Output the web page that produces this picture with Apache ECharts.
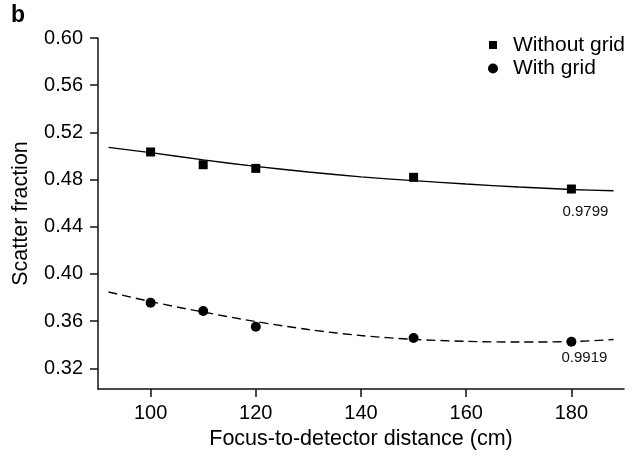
<!DOCTYPE html>
<html>
<head>
<meta charset="utf-8">
<script src="https://cdn.jsdelivr.net/npm/echarts@6/dist/echarts.min.js"></script>
<style>html,body{margin:0;padding:0;background:#fff}#c{width:641px;height:459px}</style>
</head>
<body>
<div id="c"></div>
<script>
// measured points
const distances = [100, 110, 120, 150, 180];
const withoutGrid = [0.5034, 0.4926, 0.4895, 0.4819, 0.4720];
const withGrid = [0.3756, 0.3686, 0.3553, 0.3457, 0.3425];
// fitted curves
const fitX = [92, 100, 110, 120, 130, 140, 150, 160, 170, 180, 188];
const fitWithout = [0.5073, 0.5028, 0.4967, 0.4912, 0.4864, 0.4823, 0.4791, 0.4762, 0.4737, 0.4716, 0.4705];
const fitWith = [0.3847, 0.3766, 0.3677, 0.3597, 0.3529, 0.3478, 0.3446, 0.3429, 0.3423, 0.3427, 0.3444];
const fitLabels = ['0.9799', '0.9919'];
const xTicks = [100, 120, 140, 160, 180];
const yTicks = [0.32, 0.36, 0.40, 0.44, 0.48, 0.52, 0.56, 0.60];

const FONT = 'Liberation Sans, Arial, sans-serif';
const AX = '#111';

function pts(xs, ys, labelIdx, labelText, offset) {
  return xs.map((x, i) => {
    const d = { value: [x, ys[i]] };
    if (i === labelIdx) {
      d.label = { show: true, position: 'bottom', formatter: labelText, offset: offset,
        fontSize: 15, color: '#111', fontFamily: FONT };
    }
    return d;
  });
}

const chart = echarts.init(document.getElementById('c'), null, { renderer: 'canvas' });
chart.setOption({
  animation: false,
  backgroundColor: '#fff',
  textStyle: { fontFamily: FONT },
  title: {
    text: 'b', left: 11, top: 4, padding: 0,
    textStyle: { fontSize: 23, fontWeight: 'bold', color: '#000', fontFamily: FONT }
  },
  legend: [
    {
      data: ['Without grid'], orient: 'vertical', left: 489, top: 34.5, padding: 0,
      icon: 'rect', itemWidth: 8, itemHeight: 8,
      itemStyle: { opacity: 1, color: '#000' },
      textStyle: { fontSize: 21, color: '#000', fontFamily: FONT, padding: [0, 0, 0, 11] }
    },
    {
      data: ['With grid'], orient: 'vertical', left: 488, top: 58, padding: 0,
      icon: 'circle', itemWidth: 10, itemHeight: 10,
      itemStyle: { opacity: 1, color: '#000' },
      textStyle: { fontSize: 21, color: '#000', fontFamily: FONT, padding: [0, 0, 0, 10] }
    }
  ],
  grid: { left: 98, right: 17, top: 38, bottom: 70, containLabel: false },
  xAxis: {
    type: 'value', min: 90, max: 190,
    name: 'Focus-to-detector distance (cm)', nameLocation: 'middle', nameGap: 39,
    nameTextStyle: { fontSize: 21.5, color: '#000', fontFamily: FONT },
    axisLine: { show: true, lineStyle: { color: AX, width: 1.5 } },
    axisTick: { show: true, length: 8, lineStyle: { color: AX, width: 1.5 }, customValues: xTicks },
    axisLabel: { fontSize: 20, color: '#000', margin: 14, fontFamily: FONT, customValues: xTicks },
    splitLine: { show: false }
  },
  yAxis: {
    type: 'value', min: 0.3025, max: 0.60,
    name: 'Scatter fraction', nameLocation: 'middle', nameGap: 66, nameRotate: 90,
    nameTextStyle: { fontSize: 21.5, color: '#000', fontFamily: FONT },
    axisLine: { show: true, lineStyle: { color: AX, width: 1.5 } },
    axisTick: { show: true, length: 8, lineStyle: { color: AX, width: 1.5 }, customValues: yTicks },
    axisLabel: { fontSize: 20, color: '#000', margin: 15, fontFamily: FONT, customValues: yTicks,
      formatter: v => v.toFixed(2) },
    splitLine: { show: false }
  },
  series: [
    {
      name: 'fitWithout', type: 'line', data: fitX.map((x, i) => [x, fitWithout[i]]),
      smooth: 0.3, showSymbol: false, symbol: 'none',
      lineStyle: { color: '#000', width: 1.4 }, z: 2, silent: true
    },
    {
      name: 'fitWith', type: 'line', data: fitX.map((x, i) => [x, fitWith[i]]),
      smooth: 0.3, showSymbol: false, symbol: 'none',
      lineStyle: { color: '#000', width: 1.4, type: [9, 5] }, z: 2, silent: true
    },
    {
      name: 'Without grid', type: 'scatter', symbol: 'rect', symbolSize: 9,
      itemStyle: { color: '#000', opacity: 1 }, z: 3,
      data: pts(distances, withoutGrid, 4, fitLabels[0], [14, 6])
    },
    {
      name: 'With grid', type: 'scatter', symbol: 'circle', symbolSize: 10,
      itemStyle: { color: '#000', opacity: 1 }, z: 3,
      data: pts(distances, withGrid, 4, fitLabels[1], [13, -1])
    }
  ]
});
</script>
</body>
</html>
